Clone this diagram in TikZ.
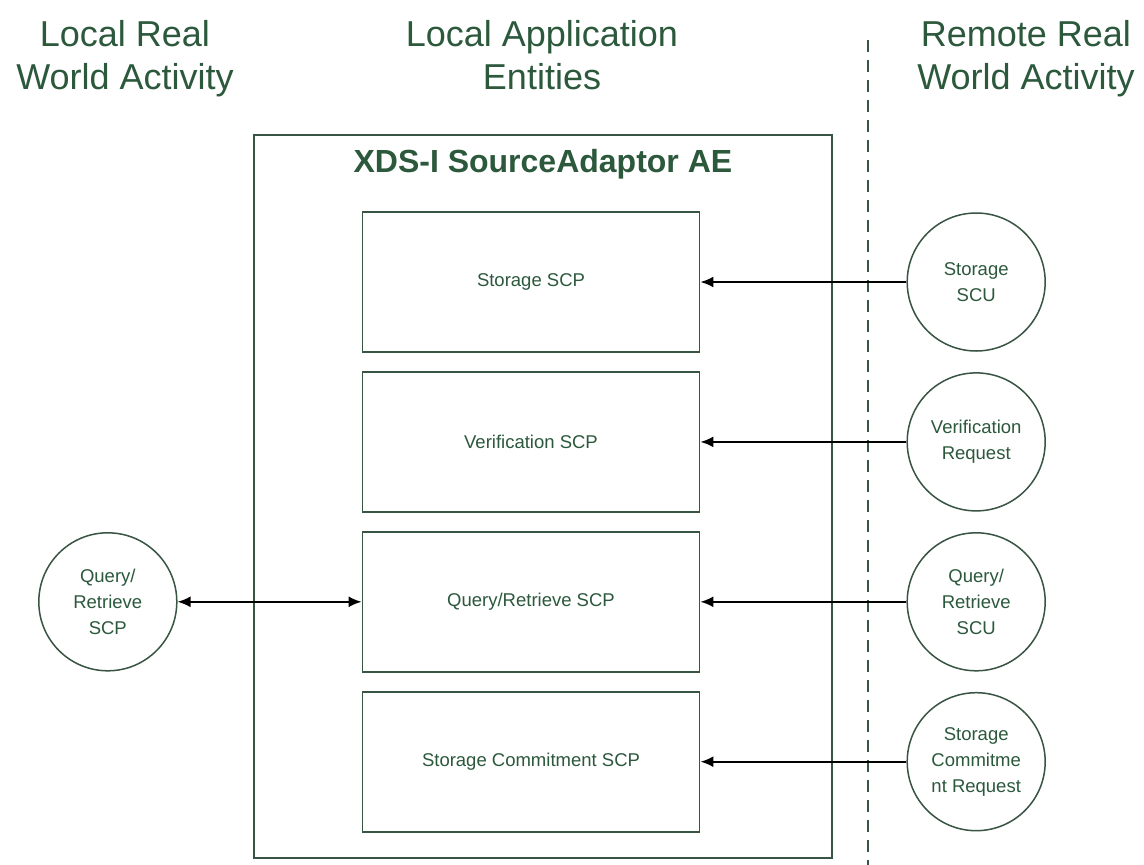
\documentclass[tikz,border=0pt]{standalone}
\usepackage{fontspec}
\setmainfont{Liberation Sans}
\usetikzlibrary{positioning,arrows.meta}
\definecolor{dicomgreen}{RGB}{44,88,60}
\definecolor{edgegreen}{RGB}{56,84,66}

\begin{document}
\begin{tikzpicture}[x=1pt, y=-1pt, node distance=18pt,
  colhead/.style={text=dicomgreen, align=center, anchor=north, font=\fontsize{36}{43}\selectfont},
  scpbox/.style={draw=edgegreen, line width=1.9pt, minimum width=337pt, minimum height=140pt, inner sep=0pt, text=dicomgreen, font=\fontsize{18.5}{26}\selectfont},
  actor/.style={draw=edgegreen, line width=1.5pt, circle, minimum size=138pt, inner sep=0pt, text=dicomgreen, align=center, font=\fontsize{18.5}{26}\selectfont},
  msg/.style={line width=1.8pt, -{Latex[length=13pt,width=11pt]}}]
\fill[white] (0,0) rectangle (1144,865);
\useasboundingbox (0,0) rectangle (1144,865);

% column headings
\node (localhead) [colhead] at (125,17) {Local Real\\World Activity};
\node (aehead) [colhead] at (542,17) {Local Application\\Entities};
\node (remotehead) [colhead] at (1026,17) {Remote Real\\World Activity};

% application entity
\node (ae) [draw=edgegreen, line width=1.9pt, anchor=north west, minimum width=578pt, minimum height=723pt, inner sep=0pt] at (253,134) {};
\node (aetitle) [below=12pt of ae.north, text=dicomgreen, font=\bfseries\fontsize{32}{38}\selectfont] {XDS-I SourceAdaptor AE};

\node (storage) [scpbox] at (531,282) {Storage SCP};
\node (verif) [scpbox, below=of storage] {Verification SCP};
\node (query) [scpbox, below=of verif] {Query/Retrieve SCP};
\node (commit) [scpbox, below=of query] {Storage Commitment SCP};

% remote activities
\node (stscu) [actor, right=206pt of storage] {Storage\\SCU};
\node (verreq) [actor, right=206pt of verif] {Verification\\Request};
\node (qrscu) [actor, right=206pt of query] {Query/\\Retrieve\\SCU};
\node (cmtreq) [actor, right=206pt of commit] {Storage\\Commitme\\nt Request};

% local activity
\node (qrscp) [actor, left=184pt of query] {Query/\\Retrieve\\SCP};

% divider
\coordinate (divtop) at (868,40);
\coordinate (divbot) at (868,865);
\draw[edgegreen, line width=1.4pt, dash pattern=on 12pt off 8pt] (divtop) -- (divbot);

\draw[msg] (stscu) -- (storage);
\draw[msg] (verreq) -- (verif);
\draw[msg] (qrscu) -- (query);
\draw[msg] (cmtreq) -- (commit);
\draw[msg, {Latex[length=13pt,width=11pt]}-{Latex[length=13pt,width=11pt]}] (qrscp) -- (query);
\end{tikzpicture}
\end{document}
